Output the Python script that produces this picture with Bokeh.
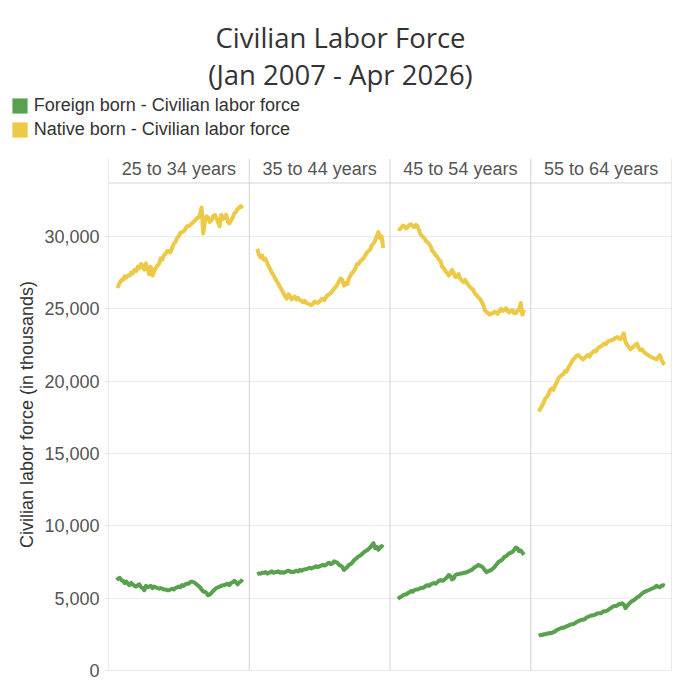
from bokeh.plotting import figure
from bokeh.layouts import column
from bokeh.models import (ColumnDataSource, Span, Label, Legend, LegendItem, FixedTicker,
                          NumeralTickFormatter, Range1d)
from bokeh.core.properties import value
from bokeh.embed import file_html
from bokeh.resources import INLINE

TITLE_LINES = ["Civilian Labor Force", "(Jan 2007 - Apr 2026)"]
AGE_GROUPS = ["25 to 34 years", "35 to 44 years", "45 to 54 years", "55 to 64 years"]
SERIES_NAMES = ["Foreign born - Civilian labor force", "Native born - Civilian labor force"]
Y_LABEL = "Civilian labor force (in thousands)"
Y_TICKS = [0, 5000, 10000, 15000, 20000, 25000, 30000]

# quarterly observation dates, Q1 2007 .. Q2 2026 (decimal years)
START_YEAR = 2007
N_QUARTERS = 78
DATES = [START_YEAR + q / 4 for q in range(N_QUARTERS)]

# Foreign born (thousands), one row per year (4 quarters)
FOREIGN_25_34 = [6250, 6350, 6400, 6250,   6200, 6050, 6150, 6000,   5900, 6050, 5950, 5850,
                 5800, 5900, 5950, 5750,   5700, 5550, 5850, 5750,   5800, 5850, 5700, 5800,
                 5750, 5700, 5650, 5700,   5650, 5600, 5600, 5550,   5550, 5600, 5650, 5600,
                 5700, 5750, 5800, 5750,   5900, 5850, 5950, 6000,   6000, 6100, 6150, 6100,
                 6050, 5950, 5850, 5750,   5600, 5450, 5450, 5350,   5200, 5250, 5350, 5500,
                 5600, 5700, 5750, 5800,   5850, 5900, 5900, 5950,   6000, 5900, 6050, 6100,
                 6200, 6100, 5950, 6100,   6150, 6300]
FOREIGN_35_44 = [6650, 6700, 6700, 6750,   6750, 6800, 6700, 6750,   6800, 6850, 6750, 6800,
                 6800, 6850, 6750, 6800,   6750, 6800, 6850, 6900,   6850, 6800, 6800, 6850,
                 6900, 6850, 6950, 6900,   6950, 7000, 7000, 7050,   7100, 7050, 7100, 7150,
                 7200, 7150, 7200, 7250,   7300, 7250, 7300, 7400,   7450, 7350, 7400, 7550,
                 7500, 7450, 7300, 7250,   7150, 6950, 7050, 7150,   7300, 7350, 7450, 7600,
                 7700, 7800, 7900, 7950,   8050, 8150, 8250, 8300,   8400, 8500, 8650, 8800,
                 8450, 8550, 8350, 8500,   8600, 8500]
FOREIGN_45_54 = [4950, 5050, 5100, 5200,   5250, 5250, 5350, 5400,   5500, 5450, 5550, 5600,
                 5600, 5650, 5700, 5700,   5750, 5850, 5900, 5850,   5950, 6000, 6050, 6000,
                 6100, 6200, 6250, 6200,   6250, 6350, 6450, 6600,   6550, 6300, 6350, 6600,
                 6650, 6650, 6700, 6700,   6750, 6750, 6800, 6850,   6900, 6950, 7050, 7150,
                 7200, 7300, 7250, 7200,   7100, 6950, 6800, 6850,   6900, 6950, 7050, 7150,
                 7300, 7450, 7550, 7600,   7700, 7850, 7900, 8000,   8100, 8150, 8200, 8350,
                 8500, 8450, 8250, 8300,   8150, 8000]
FOREIGN_55_64 = [2400, 2450, 2450, 2500,   2500, 2550, 2550, 2600,   2600, 2650, 2700, 2800,
                 2850, 2900, 2950, 2950,   3000, 3050, 3100, 3150,   3200, 3200, 3250, 3350,
                 3400, 3450, 3500, 3500,   3550, 3650, 3700, 3750,   3800, 3800, 3850, 3900,
                 3950, 3950, 3950, 4050,   4100, 4100, 4150, 4250,   4300, 4400, 4450, 4450,
                 4500, 4600, 4600, 4650,   4550, 4300, 4450, 4600,   4700, 4800, 4850, 4950,
                 5050, 5100, 5200, 5300,   5400, 5450, 5500, 5550,   5600, 5650, 5700, 5750,
                 5850, 5800, 5750, 5850,   5900, 5850]

# Native born (thousands)
NATIVE_25_34 = [26600, 26550, 26800, 27000,   27000, 27250, 27150, 27300,
                27300, 27500, 27450, 27700,   27600, 27900, 27800, 28100,
                28000, 27700, 28150, 27800,   27400, 27900, 27300, 27600,
                27800, 28000, 28100, 28500,   28400, 28700, 28800, 29000,
                29000, 28900, 29200, 29500,   29600, 29900, 30000, 30250,
                30300, 30350, 30500, 30700,   30700, 30800, 30900, 31000,
                31100, 31250, 31300, 31500,   32000, 30200, 31000, 31400,
                31300, 31000, 31100, 31400,   31500, 31300, 31000, 30700,
                31500, 31200, 31300, 31500,   31000, 30900, 31100, 31300,
                31600, 31700, 31900, 32000,   32100, 31950]
NATIVE_35_44 = [29150, 28750, 28550, 28700,   28400, 28450, 28200, 27950,
                27700, 27500, 27300, 27100,   26900, 26700, 26500, 26300,
                26100, 25850, 25700, 26000,   25900, 25650, 25750, 25850,
                25650, 25750, 25600, 25550,   25450, 25550, 25400, 25350,
                25300, 25250, 25350, 25500,   25450, 25400, 25500, 25650,
                25700, 25600, 25800, 25950,   26000, 26100, 26250, 26400,
                26500, 26700, 26900, 27100,   27000, 26600, 26800, 26700,
                27100, 27300, 27500, 27600,   27800, 28100, 28100, 28300,
                28400, 28500, 28700, 28900,   29000, 29100, 29400, 29500,
                29700, 30000, 30300, 29900,   30000, 29200]
NATIVE_45_54 = [30550, 30500, 30600, 30750,   30700, 30550, 30650, 30800,
                30850, 30700, 30650, 30800,   30700, 30400, 30100, 30000,
                29900, 29700, 29600, 29500,   29300, 29000, 28900, 28700,
                28600, 28400, 28300, 27900,   27800, 27600, 27500, 27300,
                27450, 27700, 27500, 27200,   27200, 27400, 27100, 26950,
                26850, 27000, 26800, 26650,   26500, 26400, 26300, 26050,
                25950, 25800, 25700, 25500,   25300, 24900, 24800, 24700,
                24600, 24700, 24700, 24800,   24750, 24650, 24850, 25000,
                24850, 24900, 25050, 24850,   24750, 24900, 24900, 24700,
                24700, 24900, 24900, 25400,   24600, 24950]
NATIVE_55_64 = [17900, 18100, 18300, 18500,   18800, 18900, 19100, 19400,
                19500, 19400, 19700, 19900,   20200, 20300, 20400, 20500,
                20700, 20650, 20900, 21100,   21300, 21500, 21600, 21750,
                21800, 21700, 21600, 21500,   21600, 21700, 21800, 21700,
                21900, 22000, 22100, 22050,   22250, 22350, 22400, 22500,
                22600, 22550, 22700, 22800,   22800, 22850, 22900, 23000,
                23050, 22950, 22900, 23100,   23300, 22700, 22500, 22350,
                22200, 22300, 22400, 22500,   22600, 22300, 22150, 22200,
                22050, 21950, 21850, 21800,   21700, 21650, 21600, 21550,
                21500, 21650, 21800, 21500,   21250, 21150]

FOREIGN = [FOREIGN_25_34, FOREIGN_35_44, FOREIGN_45_54, FOREIGN_55_64]
NATIVE = [NATIVE_25_34, NATIVE_35_44, NATIVE_45_54, NATIVE_55_64]

GREEN = "#59A14F"
YELLOW = "#EDC948"
SEP_COLOR = "#d3d3d3"

# ---------------- header figure: title + legend ----------------
TOP_H = 158
top = figure(width=680, height=TOP_H, output_backend="svg", toolbar_location=None,
             x_range=Range1d(0, 680), y_range=Range1d(0, TOP_H),
             x_axis_location=None, y_axis_location=None,
             min_border_left=0, min_border_right=0, min_border_top=0, min_border_bottom=0,
             background_fill_color="white", border_fill_color="white",
             outline_line_color=None)
top.frame_align = False
top.xgrid.visible = False
top.ygrid.visible = False

for txt, yy in zip(TITLE_LINES, (TOP_H - 37.3, TOP_H - 74)):
    top.add_layout(Label(x=340, y=yy, x_units="screen", y_units="screen", text=txt,
                         text_align="center", text_baseline="alphabetic",
                         text_font="Open Sans", text_font_size="27.5px",
                         text_color="#333333"))

NAN = float("nan")
rf = top.quad(left=[NAN], right=[NAN], top=[NAN], bottom=[NAN], fill_color=GREEN, line_color=None)
rn = top.quad(left=[NAN], right=[NAN], top=[NAN], bottom=[NAN], fill_color=YELLOW, line_color=None)
legend = Legend(items=[LegendItem(label=SERIES_NAMES[0], renderers=[rf]),
                       LegendItem(label=SERIES_NAMES[1], renderers=[rn])],
                location=(9.8, 18.3), orientation="vertical",
                border_line_color=None, background_fill_alpha=0,
                padding=0, margin=0, spacing=3, glyph_width=19, glyph_height=19,
                label_standoff=5, label_height=20,
                label_text_font="Liberation Sans", label_text_font_size="18px",
                label_text_color="#333333")
top.add_layout(legend)

# ---------------- facet chart ----------------
PANEL_SPAN = 21.5
PAD = 1.22
X_MAX = PANEL_SPAN * len(AGE_GROUPS)
Y_MAX = 35390
HEADER_Y = 33700
HEADER_TEXT_Y = 34630

p = figure(width=680, height=680 - TOP_H, output_backend="svg", toolbar_location=None,
           x_range=Range1d(0, X_MAX), y_range=Range1d(0, Y_MAX),
           x_axis_location=None, min_border_left=108, min_border_right=9,
           min_border_top=0, min_border_bottom=10,
           background_fill_color="white", border_fill_color="white",
           outline_line_color=None)
p.frame_align = False

ax = p.yaxis[0]
ax.ticker = FixedTicker(ticks=Y_TICKS)
ax.formatter = NumeralTickFormatter(format="0,0")
ax.axis_line_color = None
ax.major_tick_line_color = "#e6e6e6"
ax.major_tick_in = 0
ax.major_tick_out = 4
ax.minor_tick_line_color = None
ax.major_label_text_font = "Liberation Sans"
ax.major_label_text_font_size = "18px"
ax.major_label_text_color = "#555555"
ax.major_label_standoff = 5
ax.axis_label = Y_LABEL
ax.axis_label_text_font = "Liberation Sans"
ax.axis_label_text_font_size = "18px"
ax.axis_label_text_font_style = "normal"
ax.axis_label_text_color = "#333333"
ax.axis_label_standoff = 4

p.xgrid.visible = False
p.ygrid.grid_line_color = "#ececec"
p.ygrid.grid_line_width = 1

for k in range(len(AGE_GROUPS) + 1):
    p.add_layout(Span(location=k * PANEL_SPAN, dimension="height",
                      line_color=SEP_COLOR, line_width=1))
for yv in (HEADER_Y, 0):
    p.add_layout(Span(location=yv, dimension="width", line_color=SEP_COLOR, line_width=1))

hdr = ColumnDataSource(dict(x=[(k + 0.5) * PANEL_SPAN for k in range(len(AGE_GROUPS))],
                            y=[HEADER_TEXT_Y] * len(AGE_GROUPS), text=AGE_GROUPS))
p.text(x="x", y="y", text="text", source=hdr, text_align="center",
       text_baseline="middle",
       text_font=value("Liberation Sans"), text_font_size="18px", text_color="#555555")

for k in range(len(AGE_GROUPS)):
    xs = [k * PANEL_SPAN + PAD + (d - DATES[0]) for d in DATES]
    assert len(FOREIGN[k]) == len(DATES) and len(NATIVE[k]) == len(DATES), (k, len(FOREIGN[k]), len(NATIVE[k]))
    p.line(xs, FOREIGN[k], line_color=GREEN, line_width=4, line_join="round")
    p.line(xs, NATIVE[k], line_color=YELLOW, line_width=4, line_join="round")

layout = column(top, p, spacing=0)
open("out.html", "w").write(file_html(layout, INLINE))
